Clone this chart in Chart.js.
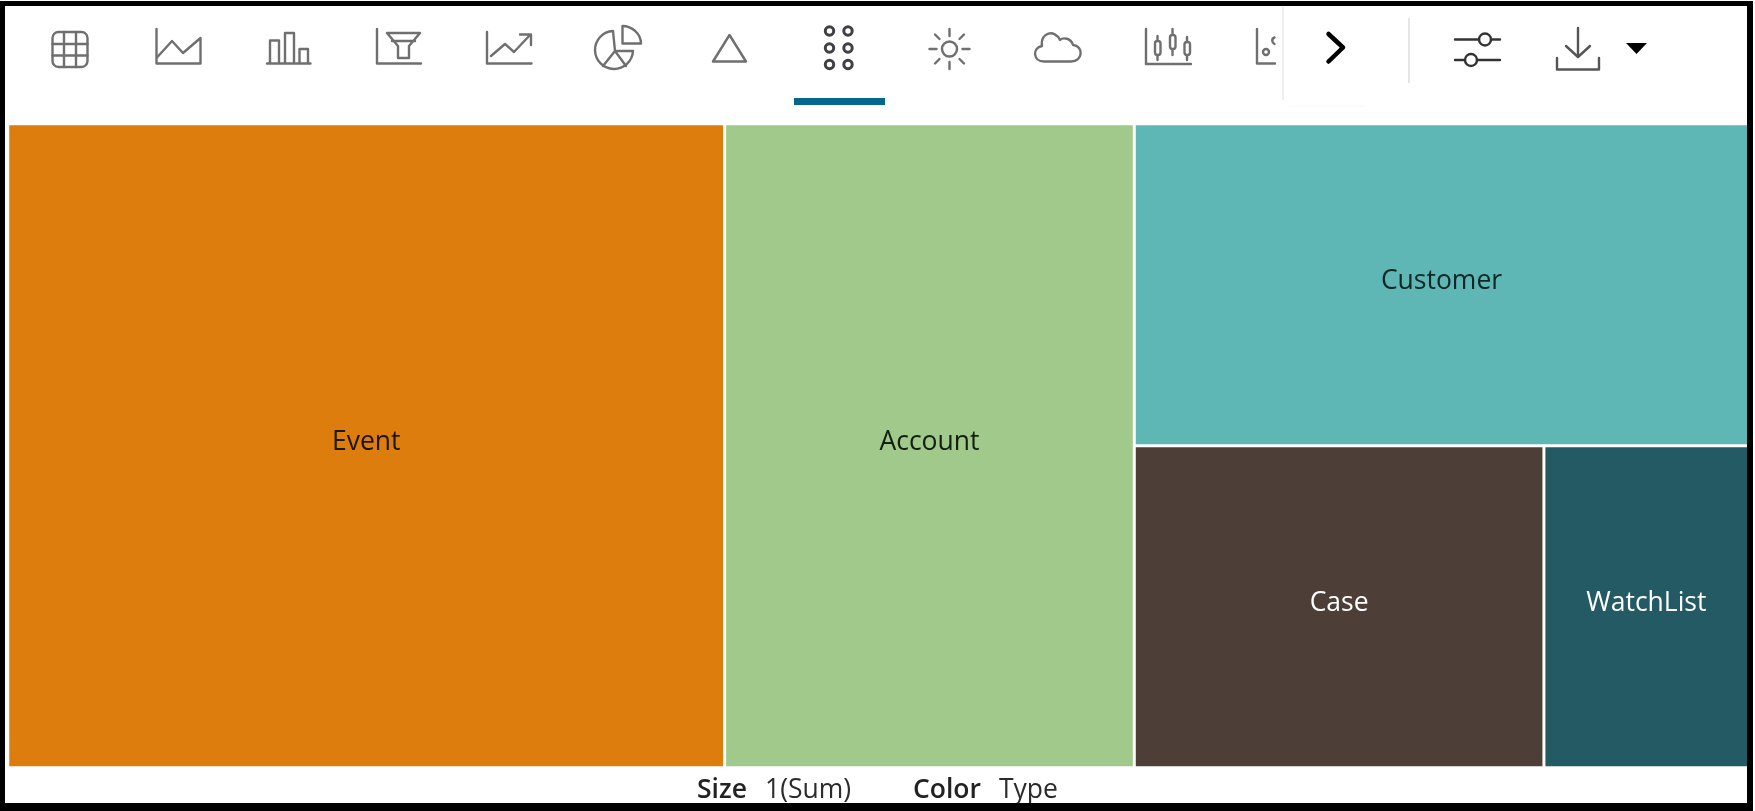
<!DOCTYPE html>
<html>
<head>
<meta charset="utf-8">
<title>Treemap</title>
<script src="https://cdn.jsdelivr.net/npm/chart.js@4/dist/chart.umd.min.js"></script>
<style>
html, body { margin: 0; padding: 0; background: #fff; width: 1755px; height: 811px; overflow: hidden; }
#chartBox { position: absolute; left: 0; top: 0; width: 1755px; height: 811px; }
#icons { position: absolute; left: 0; top: 0; }
#frame { position: absolute; left: 0; top: 1px; width: 1753px; height: 810px; box-sizing: border-box;
    border-style: solid; border-color: #000; border-width: 5px 6px 8px 5px; }
.foot { position: absolute; top: 770px; font: 26.5px "Open Sans", sans-serif; color: #2b2b2b; white-space: pre; }
.foot b { font-weight: 600; color: #222; }
</style>
</head>
<body>
<div id="chartBox"><canvas id="treemapChart"></canvas></div>

<svg id="icons" width="1755" height="811" fill="none" stroke="#6f6f6f" stroke-width="2.4" stroke-linejoin="round" stroke-linecap="round">
    <!-- table -->
    <rect x="52.5" y="32" width="35" height="35" rx="6"/>
    <path d="M64 32V67M76 32V67M52.5 44H87.5M52.5 55.5H87.5"/>
    <!-- line -->
    <path d="M156.500 29V63.500H200.500V38L183 53 172 41 156.500 58"/>
    <!-- bar -->
    <path d="M267 63.500H310.500M270 63V40.500H279V63M285 63V33H294V63M299.500 63V49H308V63"/>
    <!-- funnel -->
    <path d="M377 29V63.500H421M387 33H420L409 46V58H398V46ZM392 41H415"/>
    <!-- area / trend -->
    <path d="M487 32V63.500H531.500M491 56L505 44 514 52 530 35M520 34.500H531V45"/>
    <!-- pie -->
    <path d="M622.500 26V43.500H641C641 34 632 26 622.500 26Z"/>
    <path d="M613 31A19 19 0 1 0 633 51H615ZM615 51L603 66M615 51L626 66"/>
    <!-- triangle -->
    <path d="M729.500 35L746 61.500H713Z"/>
    <!-- treemap, selected -->
    <g stroke="#3f3f46" stroke-width="3">
        <circle cx="829.500" cy="31" r="4.200"/><circle cx="848" cy="31" r="4.200"/>
        <circle cx="829.500" cy="48" r="4.200"/><circle cx="848" cy="48" r="4.200"/>
        <circle cx="829.500" cy="64.500" r="4.200"/><circle cx="848" cy="64.500" r="4.200"/>
    </g>
    <!-- sunburst -->
    <circle cx="949.500" cy="49" r="7.500"/>
    <path d="M949.500 29V36M949.500 62V69M929.500 49H936.500M962.500 49H969.500M935 34.500L939.500 39M959.500 59L964 63.500M964 34.500L959.500 39M939.500 59L935 63.500"/>
    <!-- cloud -->
    <path d="M1044 61.500H1071C1083 61.500 1084 46 1073 45C1071 38 1063 37 1060 40C1055 29 1040 32 1042 46C1032 48 1033 61.500 1044 61.500Z"/>
    <!-- stock -->
    <path d="M1146 29V64H1191"/>
    <path d="M1157.500 36V60M1172.500 29V55M1187 37V60"/>
    <g fill="#fff"><rect x="1155" y="41" width="5.500" height="14" rx="2.500"/><rect x="1170" y="35" width="5.500" height="14" rx="2.500"/><rect x="1184.500" y="42" width="5.500" height="13" rx="2.500"/></g>
    <!-- scatter, cut off by the overflow edge -->
    <path d="M1257 29V63.500H1275"/>
    <circle cx="1266" cy="52" r="3"/>
    <path d="M1274.500 37.500C1271.500 38.500 1271.500 42.500 1274.500 44"/>
    <!-- overflow edge -->
    <path d="M1283 7V100" stroke="#efefef" stroke-width="2" stroke-linecap="butt"/>
    <path d="M1289 106H1365" stroke="#f8f8f8" stroke-width="1" stroke-linecap="butt"/>
    <path d="M1328.500 34L1343 47.500 1328.500 61.500" stroke="#000" stroke-width="4.500"/>
    <path d="M1409 18V83" stroke="#e6e6e6" stroke-width="2" stroke-linecap="butt"/>
    <!-- settings -->
    <g stroke="#333">
        <path d="M1455 39.500H1479M1491 39.500H1500M1455 60H1465M1477 60H1500"/>
        <circle cx="1485" cy="39.500" r="6"/><circle cx="1471" cy="60" r="6"/>
    </g>
    <!-- download -->
    <path d="M1578 28V56M1566 46L1578 57 1590 46" stroke="#555"/>
    <path d="M1557 58V69.500H1599V58" stroke="#555"/>
    <path d="M1626 43H1647L1636.500 54Z" fill="#000" stroke="none"/>
    <rect x="794" y="98" width="91" height="7" fill="#04668f" stroke="none"/>
</svg>

<div class="foot" style="left:697px"><b>Size</b></div>
<div class="foot" style="left:765px">1(Sum)</div>
<div class="foot" style="left:913px"><b>Color</b></div>
<div class="foot" style="left:999px">Type</div>
<div id="frame"></div>

<script>
var categories = ['Event', 'Account', 'Customer', 'Case', 'WatchList'];
var sizeValues = [7, 4, 3, 2, 1];
var cellColors = ['#dd7d0e', '#a1c98b', '#5eb7b4', '#4d3f37', '#235a63'];
var labelColors = ['#1c1508', '#12200f', '#0d2626', '#ffffff', '#ffffff'];
var labelWeights = ['400', '400', '400', '500', '500'];

var AREA_WIDTH = 1741, AREA_HEIGHT = 644;
var GAP = 3;

// binary split treemap: cut the list where the two sums are closest, along the longer side
function layout(items, x0, y0, x1, y1, out) {
    if (items.length === 1) {
        items[0].x0 = x0; items[0].x1 = x1; items[0].y0 = y0; items[0].y1 = y1;
        out.push(items[0]);
        return;
    }
    var total = items.reduce(function(s, d) { return s + d.size; }, 0);
    var best = 1, bestDiff = Infinity, run = 0;
    for (var i = 0; i < items.length - 1; i++) {
        run += items[i].size;
        var diff = Math.abs(total / 2 - run);
        if (diff < bestDiff) { bestDiff = diff; best = i + 1; }
    }
    var left = items.slice(0, best), right = items.slice(best);
    var share = left.reduce(function(s, d) { return s + d.size; }, 0) / total;
    // the x and y ranges are in different units, compare them as pixels
    var w = (x1 - x0) / total0 * AREA_WIDTH, h = (y1 - y0) * AREA_HEIGHT;
    if (w >= h) {
        var xm = x0 + (x1 - x0) * share;
        layout(left, x0, y0, xm, y1, out);
        layout(right, xm, y0, x1, y1, out);
    } else {
        var ym = y1 - (y1 - y0) * share;
        layout(left, x0, ym, x1, y1, out);
        layout(right, x0, y0, x1, ym, out);
    }
}

var total0 = sizeValues.reduce(function(s, v) { return s + v; }, 0);
var cells = [];
layout(categories.map(function(c, i) {
    return { x: 0, y: 0, label: c, size: sizeValues[i], color: cellColors[i], text: labelColors[i], weight: labelWeights[i] };
}), 0, 0, total0, 1, cells);
cells.forEach(function(c) { c.x = (c.x0 + c.x1) / 2; c.y = (c.y0 + c.y1) / 2; });

// Chart.js has no treemap type, so the cells are painted here from the scales
var treemapCells = {
    id: 'treemapCells',
    afterDatasetsDraw: function(chart) {
        var ctx = chart.ctx, xs = chart.scales.x, ys = chart.scales.y;
        ctx.save();
        chart.data.datasets[0].data.forEach(function(c) {
            var left = xs.getPixelForValue(c.x0) + GAP / 2;
            var right = xs.getPixelForValue(c.x1) - GAP / 2;
            var top = ys.getPixelForValue(c.y1) + GAP / 2;
            var bottom = ys.getPixelForValue(c.y0) - GAP / 2;
            ctx.fillStyle = c.color;
            ctx.fillRect(left, top, right - left, bottom - top);
            ctx.fillStyle = c.text;
            ctx.font = c.weight + ' 26.5px "Open Sans", sans-serif';
            ctx.textAlign = 'center';
            ctx.textBaseline = 'middle';
            ctx.fillText(c.label, (left + right) / 2, (top + bottom) / 2 - 3);
        });
        ctx.restore();
    }
};

var ctx = document.getElementById('treemapChart').getContext('2d');
var chart = new Chart(ctx, {
    type: 'scatter',
    data: {
        datasets: [{
            label: 'Size 1 (Sum)',
            data: cells,
            pointRadius: 0
        }]
    },
    options: {
        responsive: true,
        maintainAspectRatio: false,
        animation: false,
        layout: { padding: { left: 7.75, right: 6.25, top: 123.75, bottom: 43.25 } },
        scales: {
            x: { type: 'linear', min: 0, max: total0, display: false },
            y: { type: 'linear', min: 0, max: 1, display: false }
        },
        plugins: {
            legend: { display: false },
            tooltip: { enabled: false }
        }
    },
    plugins: [treemapCells]
});
</script>
</body>
</html>
